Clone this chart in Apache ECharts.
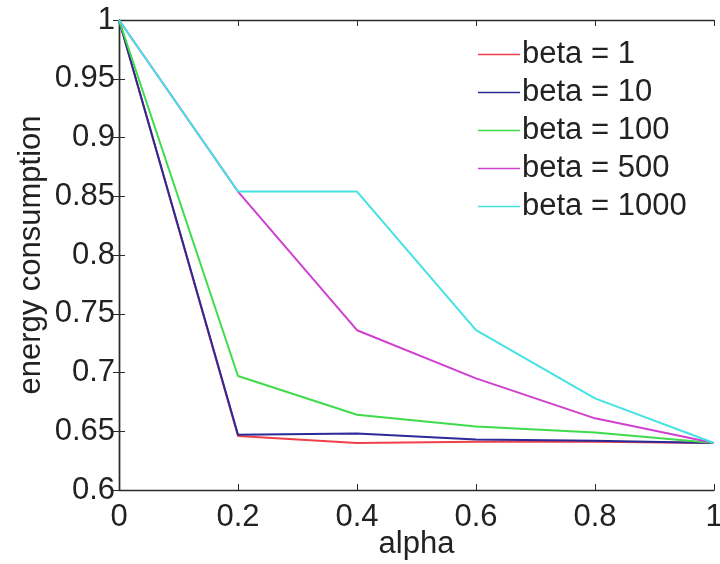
<!DOCTYPE html>
<html>
<head>
<meta charset="utf-8">
<script src="https://cdn.jsdelivr.net/npm/echarts@6/dist/echarts.min.js"></script>
<style>
  html, body { margin: 0; padding: 0; background: #fff; }
  #chart { width: 720px; height: 564px; }
</style>
</head>
<body>
<div id="chart"></div>
<script>
// alpha values along the x axis
const alpha = [0, 0.2, 0.4, 0.6, 0.8, 1];

// energy consumption for each beta setting
const beta1    = [1, 0.646, 0.640, 0.641, 0.641, 0.640];
const beta10   = [1, 0.647, 0.648, 0.643, 0.642, 0.640];
const beta100  = [1, 0.697, 0.664, 0.654, 0.649, 0.640];
const beta500  = [1, 0.854, 0.736, 0.695, 0.661, 0.640];
const beta1000 = [1, 0.854, 0.854, 0.736, 0.678, 0.640];

const seriesNames = ['beta = 1', 'beta = 10', 'beta = 100', 'beta = 500', 'beta = 1000'];
const seriesValues = [beta1, beta10, beta100, beta500, beta1000];
const seriesColors = ['#f0404a', '#2a2a98', '#3edc4c', '#d040d0', '#44e2e2'];

const FONT = '"Liberation Sans", Arial, Helvetica, sans-serif';
const FS = 31;
const TEXT = '#222';
const AXIS = '#2a2a2a';

const chart = echarts.init(document.getElementById('chart'), null, { renderer: 'canvas' });

const tickStyle = { show: true, inside: true, length: 6, lineStyle: { color: AXIS, width: 1 } };
const lineStyle = { show: true, lineStyle: { color: AXIS, width: 1.4 } };

chart.setOption({
  animation: false,
  backgroundColor: '#fff',
  grid: {
    left: 119, right: 6, top: 20, bottom: 74,
    containLabel: false,
    outerBoundsMode: 'none'
  },
  legend: {
    orient: 'vertical',
    left: 478,
    top: 39,
    icon: 'rect',
    itemWidth: 42,
    itemHeight: 1.5,
    itemGap: 7,
    padding: 0,
    textStyle: { fontFamily: FONT, fontSize: FS, color: TEXT, lineHeight: 31, padding: [0, 0, 0, -3] },
    data: seriesNames
  },
  xAxis: [
    {
      type: 'value', min: 0, max: 1, interval: 0.2, position: 'bottom',
      name: 'alpha', nameLocation: 'middle', nameGap: 39, nameMoveOverlap: false,
      nameTextStyle: { fontFamily: FONT, fontSize: FS, color: TEXT },
      axisLine: lineStyle, axisTick: tickStyle, splitLine: { show: false },
      axisLabel: { fontFamily: FONT, fontSize: FS, color: TEXT, margin: 12 }
    },
    {
      type: 'value', min: 0, max: 1, interval: 0.2, position: 'top',
      axisLine: lineStyle, axisTick: tickStyle, splitLine: { show: false },
      axisLabel: { show: false }
    }
  ],
  yAxis: [
    {
      type: 'value', min: 0.6, max: 1, interval: 0.05, position: 'left',
      name: 'energy consumption', nameLocation: 'middle', nameGap: 72, nameMoveOverlap: false,
      nameTextStyle: { fontFamily: FONT, fontSize: FS, color: TEXT },
      axisLine: lineStyle, axisTick: tickStyle, splitLine: { show: false },
      axisLabel: { fontFamily: FONT, fontSize: FS, color: TEXT, margin: 4 }
    },
    {
      type: 'value', min: 0.6, max: 1, interval: 0.05, position: 'right',
      axisLine: lineStyle, axisTick: tickStyle, splitLine: { show: false },
      axisLabel: { show: false }
    }
  ],
  series: seriesNames.map((name, i) => ({
    name: name,
    type: 'line',
    xAxisIndex: 0,
    yAxisIndex: 0,
    showSymbol: false,
    symbol: 'none',
    color: seriesColors[i],
    lineStyle: { color: seriesColors[i], width: 2 },
    data: alpha.map((a, j) => [a, seriesValues[i][j]])
  }))
});
</script>
</body>
</html>
